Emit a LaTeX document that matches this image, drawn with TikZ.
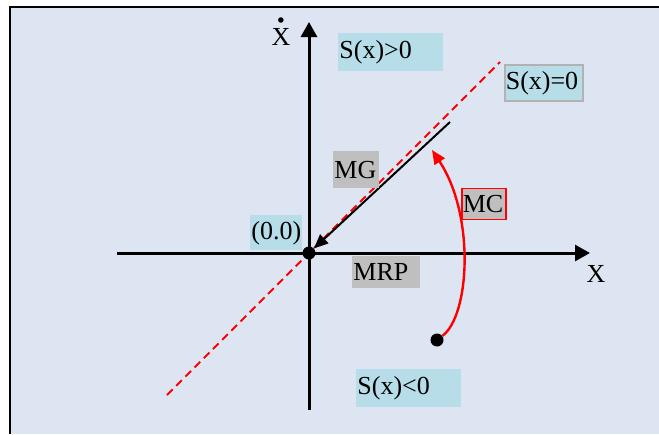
\documentclass[tikz,border=0pt]{standalone}
\usepackage{amsmath}
\usepackage{fontspec}
\setmainfont{Liberation Serif}
\usetikzlibrary{arrows.meta}

\definecolor{bgblue}{RGB}{220,229,241}
\definecolor{lcyan}{RGB}{183,222,232}
\definecolor{lgray}{RGB}{191,191,191}

\begin{document}
\begin{tikzpicture}[x=0.5pt, y=-0.5pt, font=\fontsize{13}{15}\selectfont,
  cy/.style={fill=lcyan, inner ysep=0pt, inner xsep=0.5pt, align=left, anchor=north west},
  gr/.style={cy, fill=lgray},
  ax/.style={-{Triangle[length=7.5pt, width=8pt]}, line width=1.5pt},
  arr/.style={-{Triangle[length=7pt, width=6pt]}, line width=1pt},
  blob/.style={circle, fill=black, inner sep=0pt, minimum size=6.5pt}
]
\useasboundingbox (0,0) rectangle (659,434);
\fill[bgblue] (10,7) rectangle (659,434);
\draw[line width=1pt] (10,434) -- (10,7) -- (659,7);

% axes and sliding line
\coordinate (xl) at (117,253);
\coordinate (xr) at (590,253);
\coordinate (yb) at (309,410);
\coordinate (yt) at (309,22);
\coordinate (d1) at (167,395);
\coordinate (d2) at (500,62);
\coordinate (mg) at (450,122);
\coordinate (mctip) at (432,150);

\draw[red, line width=1pt, dash pattern=on 4pt off 2.5pt] (d1) -- (d2);
\draw[ax] (xl) -- (xr);
\draw[ax] (yb) -- (yt);

\node[blob] (o) at (309,253) {};
\node[blob] (p) at (437,340) {};

\draw[arr] (mg) -- (o);
\draw[arr, red, line width=1.2pt] (p) .. controls (470,315) and (475,215) .. (mctip);

\node[anchor=base] (xdot) at (281,45) {$\overset{\scriptscriptstyle\bullet}{\text{X}}$};
\node[anchor=base] (xlab) at (596,282) {X};

\node[cy, text width=51.5pt, minimum height=19pt] (spos) at (338,33) {S(x)>0};
\node[cy, draw=gray!60, line width=0.8pt, text width=38pt, minimum height=18pt] (szero) at (504,64) {S(x)=0};
\node[gr, text width=22pt, minimum height=18.5pt] (mglab) at (333,151) {MG};
\node[gr, draw=red, line width=0.8pt, text width=21pt, minimum height=15.5pt] (mclab) at (461,187.5) {MC};
\node[cy, text width=25pt, minimum height=17.5pt] (orig) at (250,215) {(0.0)};
\node[gr, text width=33pt, minimum height=16pt] (mrp) at (352,256) {MRP};
\node[cy, text width=51.5pt, minimum height=19pt] (sneg) at (356,369) {S(x)<0};
\end{tikzpicture}
\end{document}
